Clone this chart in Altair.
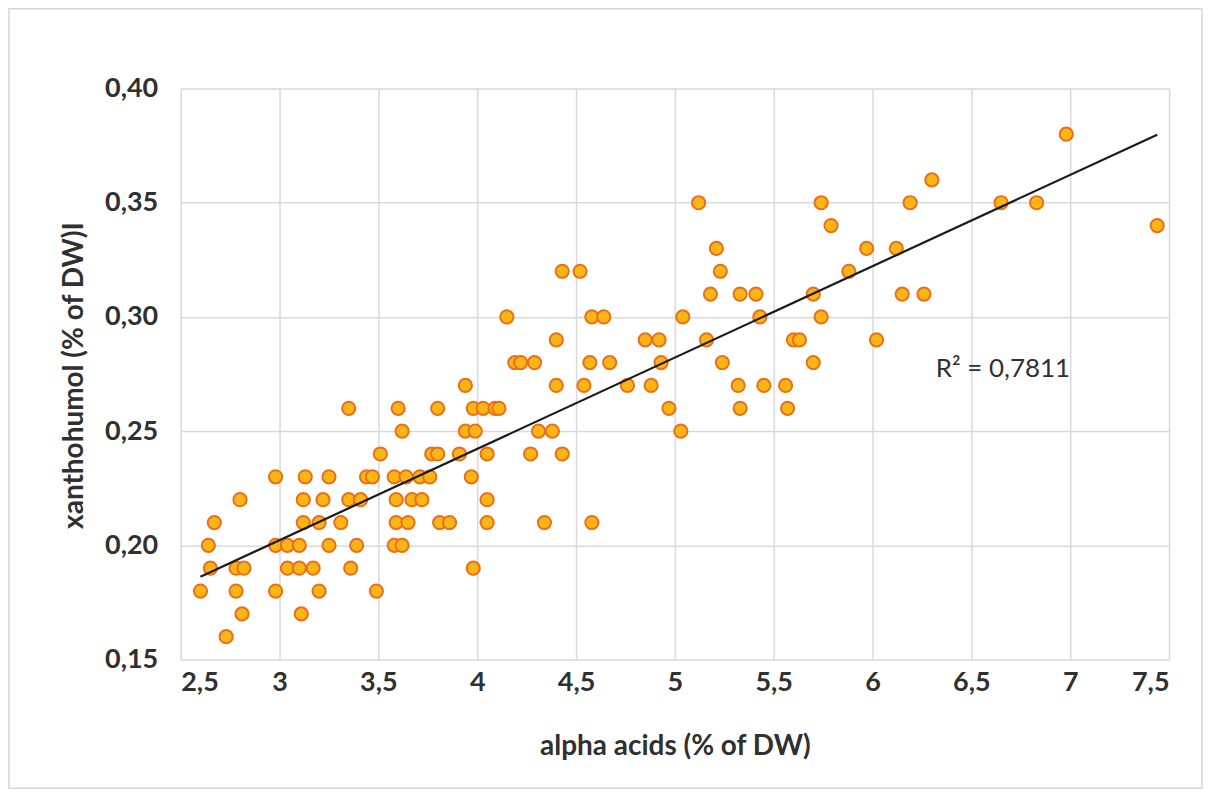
import altair as alt
import pandas as pd

# x values (alpha acids, % of DW) grouped by y level (xanthohumol, % of DW)
levels = {
    0.38: [6.98],
    0.36: [6.30],
    0.35: [5.12, 5.74, 6.19, 6.65, 6.83],
    0.34: [5.79, 7.44],
    0.33: [5.21, 5.97, 6.12],
    0.32: [4.43, 4.52, 5.23, 5.88],
    0.31: [5.18, 5.33, 5.41, 5.70, 6.15, 6.26],
    0.30: [4.15, 4.58, 4.64, 5.04, 5.43, 5.74],
    0.29: [4.40, 4.85, 4.92, 5.16, 5.60, 5.63, 6.02],
    0.28: [4.19, 4.22, 4.29, 4.57, 4.67, 4.93, 5.24, 5.70],
    0.27: [3.94, 4.40, 4.54, 4.76, 4.88, 5.32, 5.45, 5.56],
    0.26: [3.35, 3.60, 3.80, 3.98, 4.03, 4.09, 4.11, 4.97, 5.33, 5.57],
    0.25: [3.62, 3.94, 3.99, 4.31, 4.38, 5.03],
    0.24: [3.51, 3.77, 3.80, 3.91, 4.05, 4.27, 4.43],
    0.23: [2.98, 3.13, 3.25, 3.44, 3.47, 3.58, 3.64, 3.71, 3.76, 3.97],
    0.22: [2.80, 3.12, 3.22, 3.35, 3.41, 3.59, 3.67, 3.72, 4.05],
    0.21: [2.67, 3.12, 3.20, 3.31, 3.59, 3.65, 3.81, 3.86, 4.05, 4.34, 4.58],
    0.20: [2.64, 2.98, 3.04, 3.10, 3.25, 3.39, 3.58, 3.62],
    0.19: [2.65, 2.78, 2.82, 3.04, 3.10, 3.17, 3.36, 3.98],
    0.18: [2.60, 2.78, 2.98, 3.20, 3.49],
    0.17: [2.81, 3.11],
    0.16: [2.73],
}

x_ticks = [2.5, 3, 3.5, 4, 4.5, 5, 5.5, 6, 6.5, 7, 7.5]
y_ticks = [0.15, 0.20, 0.25, 0.30, 0.35, 0.40]

r2_label = ["R² = 0,7811"]
r2_x = [6.32]
r2_y = [0.277]

rows = []
for yv, xs in levels.items():
    for xv in xs:
        rows.append({"alpha": xv, "xanthohumol": yv})
df = pd.DataFrame(rows)

FONT = "Lato"
TXT = "#303030"
GRID = "#d9d9d9"
LBL = 27
TTL = 28

x_enc = alt.X(
    "alpha:Q",
    scale=alt.Scale(domain=[2.5, 7.5], nice=False, zero=False),
    axis=alt.Axis(
        values=x_ticks,
        labelExpr="replace(format(datum.value, '.1~f'), '.', ',')",
        title="alpha acids (% of DW)",
        titleX=495, titleY=87, titleBaseline="middle",
        labelPadding=10, labelFontSize=LBL, labelFont=FONT, labelFontWeight="bold",
        labelColor=TXT, titleFontSize=TTL, titleFont=FONT, titleFontWeight="bold",
        titleColor=TXT, ticks=False, domain=False, grid=True,
        gridColor=GRID, gridWidth=1.5,
    ),
)
y_enc = alt.Y(
    "xanthohumol:Q",
    scale=alt.Scale(domain=[0.15, 0.40], nice=False, zero=False),
    axis=alt.Axis(
        values=y_ticks,
        labelExpr="replace(format(datum.value, '.2f'), '.', ',')",
        title="xanthohumol (% of DW)I",
        titleX=-106, titleY=287, titleAngle=-90, titleAlign="center",
        titleBaseline="middle",
        labelPadding=23, labelFontSize=LBL, labelFont=FONT, labelFontWeight="bold",
        labelColor=TXT, titleFontSize=TTL, titleFont=FONT, titleFontWeight="bold",
        titleColor=TXT, ticks=False, domain=False, grid=True,
        gridColor=GRID, gridWidth=1.5,
    ),
)

base = alt.Chart(df)

points = base.mark_point(
    shape="circle", filled=True, size=175, fill="#FDB515", stroke="#E8701A",
    strokeWidth=2, opacity=1,
).encode(x=x_enc, y=y_enc)

trend = base.transform_regression("alpha", "xanthohumol").mark_line(
    color="#1a1a1a", strokeWidth=2.2
).encode(x="alpha:Q", y="xanthohumol:Q")

lbl = alt.Chart(pd.DataFrame({"x": r2_x, "y": r2_y, "t": r2_label})).mark_text(
    align="left", baseline="middle", font=FONT, fontSize=26, color=TXT
).encode(x="x:Q", y="y:Q", text="t:N")

frame = alt.Chart(pd.DataFrame({"k": [0]})).mark_rect(
    fill=None, stroke="#d6d6d6", strokeWidth=1.5, clip=False
).encode(
    x=alt.value(-172), x2=alt.value(1023), y=alt.value(-80), y2=alt.value(701)
)

chart = alt.layer(frame, points, trend, lbl).properties(
    width=990, height=572,
    autosize=alt.AutoSizeParams(type="none"),
    padding={"left": 173, "top": 80, "right": 36, "bottom": 130},
    background="white",
).configure_view(stroke=None)

chart.save("out.html", embed_options={"renderer": "svg", "actions": False})
